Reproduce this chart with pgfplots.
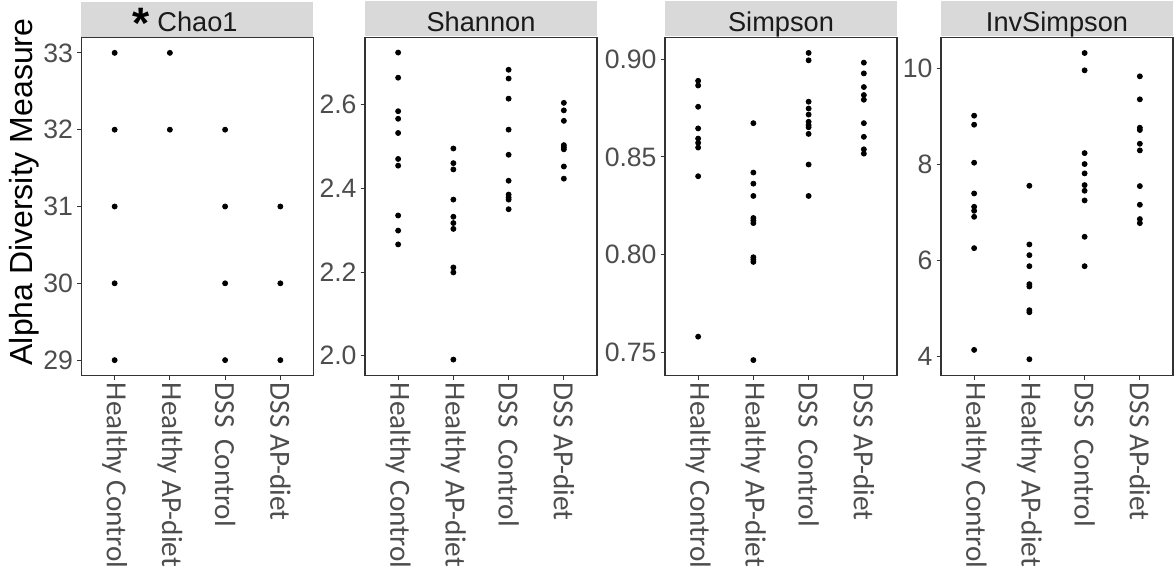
\documentclass[border=0pt]{standalone}
\usepackage{fontspec}
\setmainfont{Liberation Sans}
\newfontfamily\calibri{Carlito}
\usepackage{pgfplots}
\pgfplotsset{compat=1.18}
\definecolor{axgray}{HTML}{333333}
\definecolor{lblgray}{HTML}{4D4D4D}
\definecolor{stripgray}{HTML}{D9D9D9}
\definecolor{striptext}{HTML}{1A1A1A}
\pgfplotsset{
  facet/.style={
    scale only axis, width=116pt, height=169pt,
    anchor=south west, clip=false,
    xmin=-0.6, xmax=3.6,
    xtick={0,1,2,3},
    xticklabels={Healthy Control, Healthy AP-diet, DSS\hspace{0.4em}Control, DSS AP-diet},
    tick pos=left,
    tick align=outside,
    major tick length=2.2pt,
    every tick/.style={axgray, line width=0.5pt},
    axis line style={axgray, line width=0.6pt},
    xticklabel shift=-2pt,
    yticklabel shift=-1.5pt,
    xticklabel style={rotate=-90, anchor=west, font=\calibri\fontsize{14.6}{16}\selectfont, text=lblgray},
    yticklabel style={font=\fontsize{13.3}{15}\selectfont, text=lblgray},
    /pgf/number format/assume math mode=true,
  },
  dots/.style={only marks, mark=*, mark size=1.25pt, draw=black, fill=black},
}
\newcommand{\strip}[1]{%
  \fill[stripgray] ([yshift=0.5pt]rel axis cs:0,1) rectangle ([yshift=18pt]rel axis cs:1,1);
  \node[anchor=base, inner sep=0pt, font=\fontsize{13.6}{15}\selectfont, text=striptext]
    at ([yshift=3pt]rel axis cs:0.5,1) {#1};}
\begin{document}
\begin{tikzpicture}
\useasboundingbox (0,0) rectangle (587.5pt,285.5pt);
\clip (0,0) rectangle (587.5pt,285.5pt);

% Chao1
\begin{axis}[facet, at={(40.75pt,97.75pt)},
  ymin=28.8, ymax=33.2, ytick={29,30,31,32,33}, yticklabels={29,30,31,32,33}]
\addplot[dots] coordinates {(0,33) (0,32) (0,31) (0,30) (0,29)};
\addplot[dots] coordinates {(1,33) (1,32)};
\addplot[dots] coordinates {(2,32) (2,31) (2,30) (2,29)};
\addplot[dots] coordinates {(3,31) (3,30) (3,29)};
\strip{Chao1}
\end{axis}

% Shannon
\begin{axis}[facet, at={(182.5pt,97.75pt)},
  ymin=1.953, ymax=2.760, ytick={2.0,2.2,2.4,2.6}, yticklabels={2.0,2.2,2.4,2.6}]
\addplot[dots] coordinates {(0,2.724) (0,2.664) (0,2.584) (0,2.566) (0,2.532) (0,2.470) (0,2.454) (0,2.335) (0,2.299) (0,2.266)};
\addplot[dots] coordinates {(1,2.495) (1,2.460) (1,2.445) (1,2.373) (1,2.332) (1,2.317) (1,2.303) (1,2.211) (1,2.199) (1,1.991)};
\addplot[dots] coordinates {(2,2.683) (2,2.662) (2,2.614) (2,2.540) (2,2.480) (2,2.418) (2,2.385) (2,2.378) (2,2.373) (2,2.350)};
\addplot[dots] coordinates {(3,2.604) (3,2.586) (3,2.561) (3,2.503) (3,2.498) (3,2.493) (3,2.452) (3,2.423)};
\strip{Shannon}
\end{axis}

% Simpson
\begin{axis}[facet, at={(332.5pt,97.75pt)},
  ymin=0.7380, ymax=0.9112, ytick={0.75,0.80,0.85,0.90}, yticklabels={0.75,0.80,0.85,0.90}]
\addplot[dots] coordinates {(0,0.8890) (0,0.8866) (0,0.8757) (0,0.8646) (0,0.8594) (0,0.8572) (0,0.8548) (0,0.8401) (0,0.7579)};
\addplot[dots] coordinates {(1,0.8673) (1,0.8420) (1,0.8363) (1,0.8300) (1,0.8187) (1,0.8175) (1,0.8161) (1,0.7986) (1,0.7974) (1,0.7962) (1,0.7459)};
\addplot[dots] coordinates {(2,0.9033) (2,0.8995) (2,0.8783) (2,0.8748) (2,0.8717) (2,0.8680) (2,0.8663) (2,0.8652) (2,0.8618) (2,0.8461) (2,0.8300)};
\addplot[dots] coordinates {(3,0.8983) (3,0.8928) (3,0.8858) (3,0.8817) (3,0.8793) (3,0.8673) (3,0.8603) (3,0.8539) (3,0.8517)};
\strip{Simpson}
\end{axis}

% InvSimpson
\begin{axis}[facet, at={(470.5pt,97.75pt)},
  ymin=3.60, ymax=10.65, ytick={4,6,8,10}, yticklabels={4,6,8,10}]
\addplot[dots] coordinates {(0,9.019) (0,8.831) (0,8.038) (0,7.397) (0,7.119) (0,7.035) (0,6.910) (0,6.256) (0,4.134)};
\addplot[dots] coordinates {(1,7.557) (1,6.333) (1,6.110) (1,5.880) (1,5.505) (1,5.456) (1,4.962) (1,4.920) (1,3.939)};
\addplot[dots] coordinates {(2,10.327) (2,9.965) (2,8.239) (2,8.010) (2,7.815) (2,7.571) (2,7.453) (2,7.251) (2,6.493) (2,5.880)};
\addplot[dots] coordinates {(3,9.840) (3,9.360) (3,8.768) (3,8.720) (3,8.434) (3,8.295) (3,7.550) (3,7.161) (3,6.862) (3,6.778)};
\strip{InvSimpson}
\end{axis}

\node[rotate=90, anchor=base, font=\fontsize{16}{18}\selectfont, text=black] at (16.5pt,189.5pt) {Alpha Diversity Measure};
\node[anchor=base, inner sep=0pt, font=\bfseries\fontsize{22}{24}\selectfont, text=black] at (70.5pt,266.2pt) {*};
\end{tikzpicture}
\end{document}
